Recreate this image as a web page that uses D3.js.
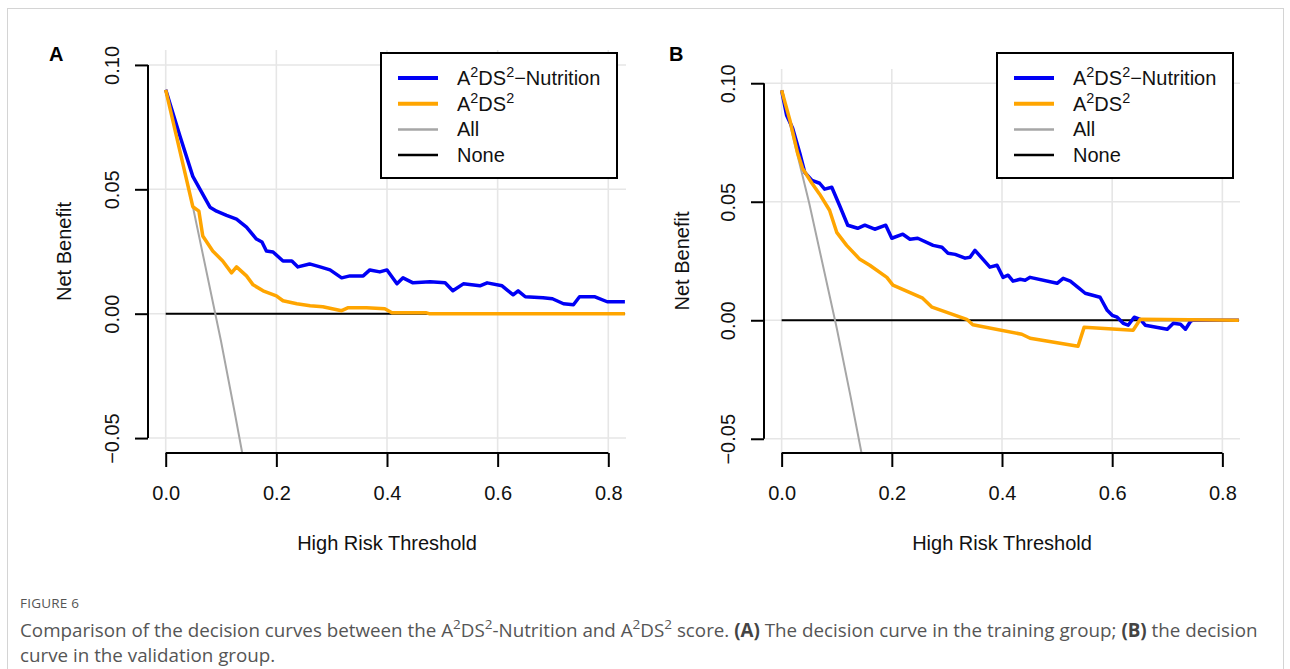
<!DOCTYPE html>
<html>
<head>
<meta charset="utf-8">
<script src="https://cdn.jsdelivr.net/npm/d3@7"></script>
<style>
  html, body { margin: 0; padding: 0; background: #fff; }
  svg { display: block; }
</style>
</head>
<body>
<svg id="chart" width="1290" height="669"></svg>
<script>
// ---------------- DATA ----------------
const xTicks = [0.0, 0.2, 0.4, 0.6, 0.8];
const yTicks = [-0.05, 0.00, 0.05, 0.10];
const legendLabels = ["Nutrition", "A2DS2", "All", "None"];
const seriesColors = ["#0000f5", "#ffa500", "#a6a6a6", "#000000"];

// Panel A: training group  [threshold, net benefit]
const trainNutrition = [
  [0, 0.090], [0.026, 0.0712], [0.049, 0.0552], [0.080, 0.0428], [0.092, 0.0412],
  [0.110, 0.0395], [0.128, 0.038], [0.146, 0.0348], [0.164, 0.030], [0.174, 0.0288],
  [0.182, 0.0252], [0.194, 0.0248], [0.212, 0.0212], [0.228, 0.0212], [0.239, 0.0188],
  [0.260, 0.0200], [0.279, 0.0188], [0.297, 0.0176], [0.318, 0.0144], [0.333, 0.0152],
  [0.357, 0.0152], [0.369, 0.0176], [0.387, 0.0168], [0.400, 0.0176], [0.418, 0.0120],
  [0.429, 0.0144], [0.447, 0.0124], [0.478, 0.0128], [0.505, 0.0124], [0.519, 0.0092],
  [0.538, 0.0120], [0.568, 0.0112], [0.581, 0.0124], [0.608, 0.0112], [0.619, 0.0092],
  [0.628, 0.0076], [0.637, 0.0092], [0.650, 0.0068], [0.682, 0.0064], [0.699, 0.0060],
  [0.719, 0.0040], [0.737, 0.0036], [0.748, 0.0068], [0.776, 0.0068], [0.798, 0.0048],
  [0.830, 0.0048]
];
const trainA2DS2 = [
  [0, 0.090], [0.049, 0.0430], [0.060, 0.0412], [0.067, 0.0312], [0.085, 0.0252],
  [0.103, 0.0212], [0.119, 0.0164], [0.128, 0.0188], [0.146, 0.0152], [0.158, 0.0116],
  [0.176, 0.0092], [0.200, 0.0072], [0.212, 0.0052], [0.237, 0.0040], [0.261, 0.0032],
  [0.284, 0.0028], [0.318, 0.0012], [0.330, 0.0024], [0.363, 0.0024], [0.396, 0.0020],
  [0.409, 0.0004], [0.470, 0.0004], [0.476, 0.0], [0.830, 0.0]
];
const trainAll = [[0, 0.090], [0.05, 0.0421], [0.10, -0.0111], [0.125, -0.040], [0.14, -0.058]];
const trainNone = [[0, 0], [0.830, 0]];

// Panel B: validation group
const validNutrition = [
  [0, 0.097], [0.009, 0.0865], [0.020, 0.081], [0.033, 0.0705], [0.042, 0.0624],
  [0.055, 0.059], [0.069, 0.0578], [0.078, 0.0553], [0.091, 0.0561], [0.105, 0.0485],
  [0.120, 0.0401], [0.138, 0.0388], [0.151, 0.0401], [0.169, 0.0384], [0.189, 0.0401],
  [0.200, 0.0346], [0.220, 0.0363], [0.233, 0.0342], [0.247, 0.0346], [0.275, 0.0316],
  [0.291, 0.0308], [0.302, 0.0283], [0.315, 0.0278], [0.333, 0.0262], [0.342, 0.0266],
  [0.351, 0.0295], [0.378, 0.0224], [0.391, 0.0232], [0.402, 0.0181], [0.411, 0.0190],
  [0.420, 0.0165], [0.433, 0.0173], [0.442, 0.0169], [0.451, 0.0181], [0.500, 0.0156],
  [0.511, 0.0177], [0.524, 0.0165], [0.538, 0.0139], [0.551, 0.0114], [0.578, 0.0097],
  [0.591, 0.0042], [0.600, 0.0021], [0.609, 0.0013], [0.620, -0.0013], [0.629, -0.0021],
  [0.640, 0.0013], [0.651, 0.0004], [0.660, -0.0021], [0.700, -0.0038], [0.711, -0.0013],
  [0.724, -0.0017], [0.733, -0.0038], [0.742, -0.0005], [0.746, 0.0], [0.830, 0.0]
];
const validA2DS2 = [
  [0, 0.097], [0.015, 0.0844], [0.029, 0.0705], [0.038, 0.0641], [0.055, 0.0578],
  [0.069, 0.0532], [0.087, 0.0464], [0.100, 0.0371], [0.118, 0.0316], [0.142, 0.0257],
  [0.160, 0.0232], [0.191, 0.0181], [0.202, 0.0148], [0.256, 0.0093], [0.273, 0.0055],
  [0.336, 0.0004], [0.347, -0.0019], [0.436, -0.0059], [0.451, -0.0076], [0.538, -0.0110],
  [0.549, -0.0030], [0.638, -0.0042], [0.651, 0.0004], [0.830, 0.0]
];
const validAll = [[0, 0.097], [0.05, 0.0495], [0.10, -0.0033], [0.125, -0.032], [0.145, -0.056]];
const validNone = [[0, 0], [0.830, 0]];

// ---------------- LAYOUT ----------------
const svg = d3.select("#chart");
const FONT = "'Liberation Sans', Arial, sans-serif";

svg.append("rect").attr("x", 7.5).attr("y", 8.5).attr("width", 1276).attr("height", 700)
  .attr("fill", "none").attr("stroke", "#d4d4d4").attr("stroke-width", 1);

const panels = [
  { letter: "A", letterX: 49, left: 148, right: 626, top: 50, bottom: 453, yTitleX: 71,
    series: [trainNutrition, trainA2DS2, trainAll, trainNone], legend: { x: 381, y: 53, w: 236, h: 125 } },
  { letter: "B", letterX: 669, left: 764, right: 1240, top: 69, bottom: 453, yTitleX: 689,
    series: [validNutrition, validA2DS2, validAll, validNone], legend: { x: 997, y: 53, w: 236, h: 125 } }
];

function addLabel(sel, label, size) {
  const parts = label === "Nutrition"
    ? [["A", 0], ["2", 1], ["DS", 0], ["2", 1], ["\u2212Nutrition", 0]]
    : label === "A2DS2" ? [["A", 0], ["2", 1], ["DS", 0], ["2", 1]] : [[label, 0]];
  let prevSup = false;
  parts.forEach(([t, sup]) => {
    const ts = sel.append("tspan").text(t);
    if (sup) { ts.attr("font-size", size * 0.72).attr("dy", -size * 0.38); }
    else if (prevSup) { ts.attr("dy", size * 0.38); }
    prevSup = !!sup;
  });
}

panels.forEach(p => {
  const x = d3.scaleLinear().domain([-0.032, 0.832]).range([p.left, p.right]);
  const y = d3.scaleLinear().domain([-0.056, 0.106]).range([p.bottom, p.top]);
  const g = svg.append("g");

  const clipId = "clip" + p.letter;
  svg.append("clipPath").attr("id", clipId).append("rect")
    .attr("x", p.left).attr("y", p.top).attr("width", p.right - p.left).attr("height", p.bottom - p.top);

  // grid
  const grid = g.append("g").attr("stroke", "#e6e6e6").attr("stroke-width", 1.6);
  xTicks.forEach(v => grid.append("line").attr("x1", x(v)).attr("x2", x(v)).attr("y1", p.top).attr("y2", p.bottom));
  yTicks.forEach(v => grid.append("line").attr("x1", p.left).attr("x2", p.right).attr("y1", y(v)).attr("y2", y(v)));

  // curves
  const line = d3.line().x(d => x(d[0])).y(d => y(d[1]));
  const widths = [3.5, 3.5, 2, 2];
  const order = [3, 2, 0, 1];
  const cg = g.append("g").attr("clip-path", `url(#${clipId})`);
  order.forEach(i => {
    cg.append("path").datum(p.series[i]).attr("d", line)
      .attr("fill", "none").attr("stroke", seriesColors[i]).attr("stroke-width", widths[i])
      .attr("stroke-linejoin", "round").attr("stroke-linecap", "butt");
  });

  // x axis
  const xAxis = g.append("g").attr("transform", `translate(0,${p.bottom})`)
    .call(d3.axisBottom(x).tickValues(xTicks).tickFormat(d3.format(".1f")).tickSize(14).tickPadding(19).tickSizeOuter(0));
  xAxis.select(".domain").remove();
  xAxis.append("line").attr("x1", x(xTicks[0])).attr("x2", x(xTicks[xTicks.length - 1]))
    .attr("stroke", "#000").attr("stroke-width", 2);
  xAxis.selectAll(".tick line").attr("stroke", "#000").attr("stroke-width", 2);
  xAxis.selectAll("text").attr("font-family", FONT).attr("font-size", 20).attr("fill", "#111");

  // y axis
  const yAxis = g.append("g").attr("transform", `translate(${p.left},0)`)
    .call(d3.axisLeft(y).tickValues(yTicks).tickFormat(d3.format(".2f")).tickSize(13).tickSizeOuter(0));
  yAxis.select(".domain").remove();
  yAxis.append("line").attr("y1", y(yTicks[0])).attr("y2", y(yTicks[yTicks.length - 1]))
    .attr("stroke", "#000").attr("stroke-width", 2);
  yAxis.selectAll(".tick line").attr("stroke", "#000").attr("stroke-width", 2);
  yAxis.selectAll("text").attr("font-family", FONT).attr("font-size", 20).attr("fill", "#111")
    .attr("transform", "rotate(-90)").attr("x", 0).attr("y", -29).attr("dy", 0).attr("text-anchor", "middle");

  // titles
  g.append("text").attr("x", (p.left + p.right) / 2).attr("y", 550)
    .attr("text-anchor", "middle").attr("font-family", FONT).attr("font-size", 20).attr("fill", "#111")
    .text("High Risk Threshold");
  g.append("text").attr("transform", `translate(${p.yTitleX},${(p.top + p.bottom) / 2}) rotate(-90)`)
    .attr("text-anchor", "middle").attr("font-family", FONT).attr("font-size", 20).attr("fill", "#111")
    .text("Net Benefit");
  g.append("text").attr("x", p.letterX).attr("y", 61)
    .attr("font-family", FONT).attr("font-size", 20).attr("font-weight", "bold").attr("fill", "#000")
    .text(p.letter);

  // legend
  const L = p.legend;
  const lg = g.append("g");
  lg.append("rect").attr("x", L.x).attr("y", L.y).attr("width", L.w).attr("height", L.h)
    .attr("fill", "#fff").attr("stroke", "#000").attr("stroke-width", 2);
  const lw = [4, 4, 2.5, 2.5];
  legendLabels.forEach((lab, i) => {
    const cy = L.y + 25 + i * 25.7;
    lg.append("line").attr("x1", L.x + 17).attr("x2", L.x + 57).attr("y1", cy).attr("y2", cy)
      .attr("stroke", seriesColors[i]).attr("stroke-width", lw[i]);
    const t = lg.append("text").attr("x", L.x + 76).attr("y", cy + 7)
      .attr("font-family", FONT).attr("font-size", 20).attr("fill", "#111");
    addLabel(t, lab, 20);
  });
});

// caption
const CAP = "'Open Sans', 'Noto Sans', sans-serif";
svg.append("text").attr("x", 20).attr("y", 608).attr("font-family", CAP).attr("font-size", 13.5)
  .attr("fill", "#555").attr("letter-spacing", 0.2).text("FIGURE 6");

const capLines = [
  [["Comparison of the decision curves between the A", 0], ["2", 1], ["DS", 0], ["2", 1], ["-Nutrition and A", 0], ["2", 1], ["DS", 0], ["2", 1],
   [" score. ", 0], ["(A)", 2], [" The decision curve in the training group; ", 0], ["(B)", 2], [" the decision", 0]],
  [["curve in the validation group.", 0]]
];
capLines.forEach((parts, li) => {
  const t = svg.append("text").attr("x", 20).attr("y", 637 + li * 25)
    .attr("font-family", CAP).attr("font-size", 18.8).attr("fill", "#555");
  let prevSup = false;
  parts.forEach(([s, k]) => {
    const ts = t.append("tspan").text(s);
    if (k === 1) ts.attr("font-size", 13.5).attr("dy", -8);
    else if (prevSup) ts.attr("dy", 8);
    if (k === 2) ts.attr("font-weight", "bold").attr("fill", "#444");
    prevSup = k === 1;
  });
});
</script>
</body>
</html>
